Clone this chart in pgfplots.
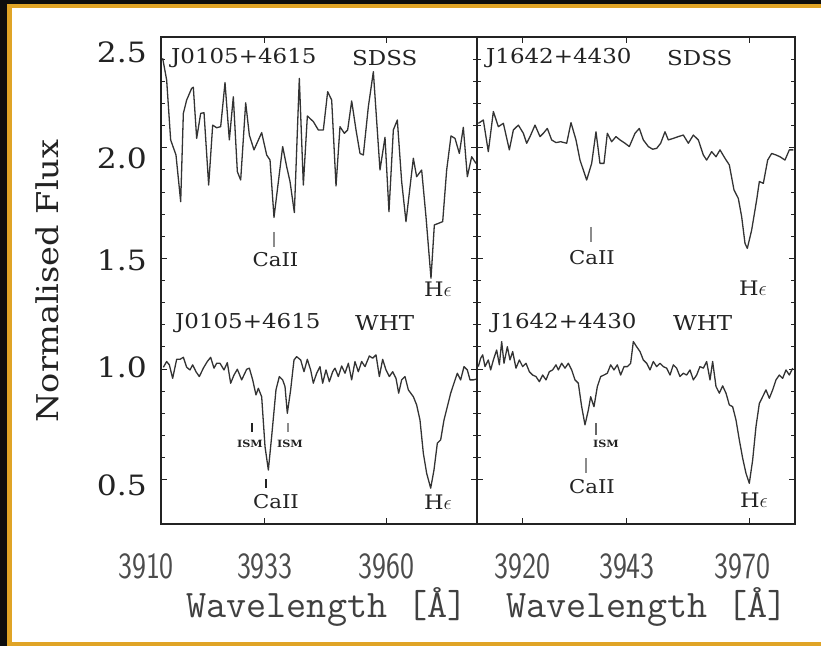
\documentclass[border=0pt]{standalone}
\usepackage{fontspec}
\usepackage{graphicx}
\usepackage{pgfplots}
\pgfplotsset{compat=1.18}
\newfontfamily\dvs{DejaVu Serif}[FakeStretch=1.12]
\definecolor{gold}{RGB}{224,164,38}
\definecolor{ink}{RGB}{35,35,35}
\newcommand{\TL}[1]{\scalebox{0.8}[1]{\fontsize{37}{37}\selectfont\sffamily #1}}
\newcommand{\YL}[1]{{\fontsize{28}{28}\selectfont\dvs #1}}
\newcommand{\PL}[1]{{\fontsize{20.5}{20.5}\selectfont\dvs #1}}
\newcommand{\AL}[1]{{\fontsize{19}{19}\selectfont\dvs #1}}
\newcommand{\HE}{{\fontsize{20}{20}\selectfont\dvs H$\epsilon$}}
\newcommand{\ISM}{{\fontsize{10}{10}\selectfont\dvs\bfseries ISM}}
\pgfplotsset{panel/.style={
  scale only axis, height=487pt,
  xmin=3910, xmax=3980, ymin=0.3, ymax=2.5,
  axis line style={line width=1.3pt, ink},
  every tick/.style={line width=0.9pt, ink},
  major tick length=6pt, minor tick length=4pt,
  tick align=inside,
  ytick={0.5,1.0,1.5,2.0,2.5}, minor y tick num=4,
  xticklabel style={anchor=center, inner sep=0pt, yshift=-42pt, text=black!70},
  yticklabel style={anchor=east, inner sep=0pt, xshift=-14pt, text=ink},
  clip=false,
}}
\begin{document}
\begin{tikzpicture}
\useasboundingbox (0,0) rectangle (821pt,646pt);
\fill[black!95] (0,0) rectangle (821pt,646pt);
\fill[gold] (7pt,0) rectangle (821pt,642pt);
\fill[white] (12pt,4pt) rectangle (821pt,638pt);

\begin{axis}[panel, width=316pt, at={(161pt,122pt)}, anchor=south west,
  xtick={3910,3933,3960},
  xticklabels={{\hspace*{-30pt}\TL{3910}},{\TL{3933}},{\TL{3960}}},
  yticklabels={}]
\addplot[line width=1.3pt, black!80, line join=round] coordinates {
(3910.37,2.404) (3911.25,2.306) (3912.14,2.035) (3913.32,1.967) (3914.36,1.756) (3914.95,2.155) (3915.68,2.215) (3916.79,2.268) (3917.16,2.273) (3917.90,2.042) (3918.79,2.155) (3919.53,2.158) (3920.56,1.831) (3921.45,2.102) (3922.33,2.090) (3923.22,2.095) (3924.18,2.294) (3925.14,2.035) (3926.02,2.230) (3926.91,1.892) (3927.65,1.854) (3928.76,2.203) (3929.57,2.057) (3930.60,1.990) (3932.30,2.068) (3933.41,1.967) (3934.15,1.944) (3935.03,1.685) (3936.95,2.005) (3937.84,1.914) (3938.58,1.847) (3939.54,1.707) (3940.64,2.313) (3941.53,1.831) (3942.42,2.143) (3943.74,2.118) (3944.85,2.080) (3945.96,2.080) (3946.92,2.253) (3947.81,2.215) (3948.77,1.827) (3949.65,2.095) (3950.61,2.065) (3951.35,2.080) (3952.24,2.211) (3953.20,2.080) (3954.08,1.974) (3954.82,1.967) (3955.93,2.185) (3957.04,2.343) (3958.51,1.899) (3959.62,2.047) (3960.50,1.711) (3961.47,2.080) (3962.35,2.125) (3963.31,1.847) (3964.27,1.666) (3965.90,1.952) (3966.63,1.869) (3967.74,1.899) (3968.70,1.688) (3969.81,1.410) (3970.55,1.651) (3971.43,1.658) (3972.40,1.666) (3973.28,1.899) (3974.24,2.053) (3975.13,2.042) (3976.09,1.974) (3976.97,2.092) (3977.86,1.869) (3978.82,1.959) (3979.78,1.929)
};
\addplot[line width=1.3pt, black!80, line join=round] coordinates {
(3910.52,1.008) (3911.25,1.034) (3911.85,1.019) (3912.58,0.958) (3913.47,1.044) (3914.21,1.044) (3914.95,1.053) (3915.69,1.008) (3916.42,0.996) (3917.01,1.019) (3917.75,0.988) (3918.49,0.966) (3919.38,1.004) (3920.26,1.034) (3921.00,1.053) (3921.74,1.004) (3922.33,1.026) (3923.07,1.026) (3923.96,0.996) (3924.69,1.029) (3925.43,0.936) (3926.17,0.973) (3926.91,0.999) (3927.87,0.951) (3928.98,0.999) (3929.57,1.004) (3930.31,0.951) (3931.04,0.883) (3931.56,0.913) (3932.30,0.875) (3933.04,0.650) (3933.78,0.544) (3934.51,0.695) (3935.47,0.906) (3936.21,0.966) (3936.95,0.951) (3937.47,0.921) (3937.98,0.800) (3938.72,0.906) (3939.46,1.041) (3940.05,1.056) (3940.94,1.041) (3941.68,0.988) (3942.41,1.044) (3943.15,0.996) (3943.74,0.936) (3944.48,0.981) (3945.22,1.011) (3945.81,0.936) (3946.55,0.996) (3947.29,0.943) (3948.03,0.988) (3948.54,1.004) (3949.28,0.966) (3950.02,1.014) (3950.76,0.981) (3951.50,1.026) (3952.23,0.951) (3952.97,1.034) (3953.71,0.988) (3954.45,1.034) (3955.19,1.011) (3956.15,1.059) (3956.89,1.049) (3957.63,1.064) (3958.37,0.966) (3959.10,1.044) (3959.84,0.996) (3960.58,0.966) (3961.32,0.988) (3962.06,0.958) (3962.65,0.891) (3963.31,0.951) (3964.05,0.966) (3964.79,0.906) (3965.90,0.875) (3966.63,0.838) (3967.37,0.770) (3968.11,0.620) (3968.85,0.529) (3969.74,0.462) (3970.47,0.544) (3971.21,0.665) (3971.95,0.680) (3972.69,0.770) (3973.43,0.830) (3974.17,0.891) (3974.90,0.936) (3975.64,0.981) (3976.38,0.951) (3977.12,1.011) (3977.86,0.996) (3978.45,0.951) (3979.19,0.951) (3979.78,0.954)
};
\end{axis}

\begin{axis}[panel, width=318pt, at={(477pt,122pt)}, anchor=south west,
  xtick={3920,3943,3970},
  xticklabels={{\TL{3920}},{\TL{3943}},{\hspace*{-14pt}\TL{3970}}},
  yticklabels={}]
\addplot[line width=1.3pt, black!80, line join=round] coordinates {
(3910.29,2.110) (3911.39,2.125) (3912.49,1.982) (3913.60,2.163) (3914.70,2.095) (3915.80,2.110) (3917.12,1.990) (3918.00,2.080) (3919.10,2.102) (3920.20,2.065) (3920.93,2.020) (3921.67,2.050) (3922.77,2.102) (3923.87,2.050) (3924.60,2.065) (3925.48,2.087) (3926.43,2.035) (3927.39,2.023) (3928.42,2.027) (3929.74,2.020) (3930.69,2.113) (3931.79,2.035) (3932.67,1.944) (3934.14,1.854) (3935.24,1.929) (3936.19,2.072) (3937.07,1.929) (3937.95,1.929) (3938.69,2.065) (3939.64,2.027) (3940.59,2.050) (3941.48,2.035) (3942.58,2.020) (3943.53,2.005) (3944.78,2.065) (3945.73,2.087) (3946.61,2.035) (3947.71,2.005) (3948.67,1.993) (3949.55,1.997) (3950.43,2.020) (3951.38,2.072) (3952.11,2.035) (3953.21,2.042) (3954.32,2.050) (3955.42,2.057) (3956.52,2.020) (3957.62,2.057) (3958.72,2.035) (3959.82,1.967) (3960.55,1.944) (3961.65,1.982) (3962.61,1.959) (3963.49,1.990) (3964.59,1.952) (3965.54,1.922) (3966.57,1.809) (3967.52,1.771) (3968.26,1.688) (3968.99,1.568) (3969.50,1.545) (3970.46,1.628) (3971.56,1.764) (3972.15,1.847) (3973.03,1.839) (3973.98,1.944) (3974.86,1.974) (3975.82,1.967) (3976.69,1.959) (3977.79,1.944) (3978.75,1.990) (3979.63,1.990)
};
\addplot[line width=1.3pt, black!80, line join=round] coordinates {
(3910.29,1.011) (3910.81,1.049) (3911.25,1.064) (3911.76,1.011) (3912.49,1.041) (3913.01,0.996) (3913.60,1.041) (3914.33,1.086) (3914.92,1.019) (3915.43,1.124) (3915.94,1.026) (3916.68,1.101) (3917.26,1.041) (3917.85,1.079) (3918.58,1.004) (3919.32,1.041) (3920.05,1.011) (3920.78,1.026) (3921.52,0.988) (3922.25,0.973) (3922.99,0.966) (3923.72,0.943) (3924.45,0.973) (3925.19,0.951) (3925.92,0.988) (3926.65,0.996) (3927.39,1.019) (3927.90,0.996) (3928.64,1.026) (3929.37,1.004) (3930.10,1.026) (3930.84,0.996) (3931.57,0.951) (3932.30,0.936) (3933.04,0.830) (3933.77,0.748) (3934.51,0.815) (3935.02,0.875) (3935.75,0.830) (3936.49,0.921) (3937.22,0.966) (3937.95,0.973) (3938.69,0.981) (3939.42,1.019) (3940.15,0.996) (3940.89,1.019) (3941.62,0.973) (3942.36,1.011) (3943.09,1.011) (3943.82,1.026) (3944.41,1.124) (3945.14,1.101) (3945.88,1.079) (3946.61,1.041) (3947.35,1.026) (3948.08,0.996) (3948.81,1.034) (3949.55,1.011) (3950.28,1.026) (3951.01,1.011) (3951.75,1.004) (3952.48,0.973) (3953.22,1.019) (3953.95,1.004) (3954.68,0.966) (3955.42,0.981) (3956.15,0.973) (3956.88,0.996) (3957.62,0.951) (3958.35,0.973) (3959.08,1.011) (3959.82,1.004) (3960.55,1.034) (3961.29,0.951) (3961.87,1.034) (3962.61,0.921) (3963.34,0.891) (3964.07,0.924) (3964.81,0.891) (3965.54,0.838) (3966.27,0.830) (3967.01,0.770) (3967.74,0.680) (3968.48,0.597) (3969.21,0.529) (3969.94,0.484) (3970.68,0.589) (3971.41,0.740) (3972.15,0.845) (3972.88,0.875) (3973.61,0.906) (3974.35,0.868) (3975.08,0.906) (3975.81,0.951) (3976.55,0.973) (3977.28,0.958) (3978.02,0.996) (3978.75,0.973) (3979.49,1.004)
};
\end{axis}

% y tick labels, placed where the figure shows them
\node[anchor=east, text=ink, inner sep=0pt] at (147pt,594pt) {\YL{2.5}};
\node[anchor=east, text=ink, inner sep=0pt] at (147pt,488pt) {\YL{2.0}};
\node[anchor=east, text=ink, inner sep=0pt] at (147pt,386pt) {\YL{1.5}};
\node[anchor=east, text=ink, inner sep=0pt] at (147pt,279pt) {\YL{1.0}};
\node[anchor=east, text=ink, inner sep=0pt] at (147pt,161pt) {\YL{0.5}};

% labels
\node[rotate=90, text=ink, inner sep=0pt] at (47pt,365pt) {\fontsize{30}{30}\selectfont\dvs Normalised Flux};
\node[text=black!75, inner sep=0pt] at (327pt,39pt) {\fontsize{39}{39}\selectfont\ttfamily Wavelength [Å]};
\node[text=black!75, inner sep=0pt] at (647pt,39pt) {\fontsize{39}{39}\selectfont\ttfamily Wavelength [Å]};

\node[anchor=west, text=ink, inner sep=0pt] at (171pt,588pt) {\PL{J0105+4615}};
\node[anchor=west, text=ink, inner sep=0pt] at (352pt,588pt) {\PL{SDSS}};
\node[anchor=west, text=ink, inner sep=0pt] at (486pt,588pt) {\PL{J1642+4430}};
\node[anchor=west, text=ink, inner sep=0pt] at (667pt,588pt) {\PL{SDSS}};
\node[anchor=west, text=ink, inner sep=0pt] at (175pt,323pt) {\PL{J0105+4615}};
\node[anchor=west, text=ink, inner sep=0pt] at (355pt,323pt) {\PL{WHT}};
\node[anchor=west, text=ink, inner sep=0pt] at (491pt,323pt) {\PL{J1642+4430}};
\node[anchor=west, text=ink, inner sep=0pt] at (673pt,323pt) {\PL{WHT}};

\node[text=ink, inner sep=0pt] at (275.5pt,386pt) {\AL{CaII}};
\node[text=ink, inner sep=0pt] at (438pt,357pt) {\HE};
\node[text=ink, inner sep=0pt] at (592pt,388pt) {\AL{CaII}};
\node[text=ink, inner sep=0pt] at (753pt,358pt) {\HE};
\node[text=ink, inner sep=0pt] at (276pt,144pt) {\AL{CaII}};
\node[text=ink, inner sep=0pt] at (438pt,144pt) {\HE};
\node[text=ink, inner sep=0pt] at (592pt,159pt) {\AL{CaII}};
\node[text=ink, inner sep=0pt] at (754pt,146pt) {\HE};
\node[text=ink, inner sep=0pt] at (250pt,202pt) {\ISM};
\node[text=ink, inner sep=0pt] at (290pt,202pt) {\ISM};
\node[text=ink, inner sep=0pt] at (606pt,202pt) {\ISM};

\draw[black!45, line width=1.2pt] (274pt,414pt) -- (274pt,399pt);
\draw[black!45, line width=1.2pt] (591pt,419pt) -- (591pt,404pt);
\draw[ink, line width=1.2pt] (266pt,167pt) -- (266pt,158pt);
\draw[ink, line width=1.2pt] (252pt,223pt) -- (252pt,214pt);
\draw[black!45, line width=1.2pt] (288pt,223pt) -- (288pt,214pt);
\draw[black!45, line width=1.2pt] (586pt,188pt) -- (586pt,173pt);
\draw[black!60, line width=1.2pt] (596pt,223pt) -- (596pt,211pt);
\end{tikzpicture}
\end{document}
